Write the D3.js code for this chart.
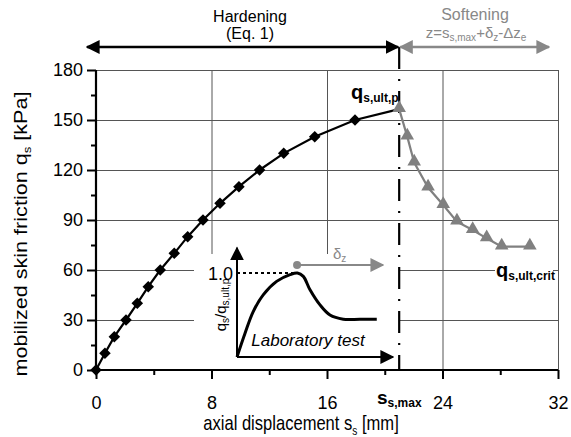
<!DOCTYPE html>
<html>
<head>
<meta charset="utf-8">
<script src="https://cdn.jsdelivr.net/npm/d3@7"></script>
<style>
body { margin: 0; background: #fff; }
svg { font-family: "Liberation Sans", Arial, sans-serif; }
</style>
</head>
<body>
<script>
// hardening branch (diamonds) and softening branch (triangles)
const hardX = [0, 0.62, 1.27, 2.08, 2.86, 3.62, 4.45, 5.42, 6.35, 7.41, 8.59, 9.9, 11.33, 13.0, 15.15, 17.94, 21.0]
const hardY = [0, 10, 20, 30, 40, 50, 60, 70, 80, 90, 100, 110, 120, 130, 140, 150, 156.5]
const softX = [21.0, 21.56, 22.04, 23.0, 24.05, 25.0, 26.09, 27.06, 28.1, 30.05]
const softY = [156.5, 140, 124.5, 109.5, 99, 89, 84, 79, 74, 74]
const xTicks = [0, 8, 16, 24, 32]
const xMinor = [4, 12, 20, 28]
const yTicks = [0, 30, 60, 90, 120, 150, 180]
const yMinor = [15, 45, 75, 105, 135, 165]
const sMax = 21.0
// inset (laboratory test), normalised units
const labX = [0, 0.51, 1.04, 1.68, 2.54, 3.40, 3.87, 4.25, 4.68, 5.32, 5.96, 6.81, 7.88, 8.96]
const labY = [0, 0.28, 0.54, 0.74, 0.90, 0.98, 1.0, 0.96, 0.80, 0.62, 0.50, 0.45, 0.45, 0.45]

const W = 571, H = 437
const svg = d3.select("body").append("svg").attr("width", W).attr("height", H)

const x = d3.scaleLinear().domain([0, 32]).range([96, 558])
const y = d3.scaleLinear().domain([0, 180]).range([370, 70])

// gridlines
svg.append("g")
    .attr("transform", "translate(0,70)")
    .call(d3.axisTop(x).tickValues(xTicks.slice(1)).tickSize(-300).tickFormat(""))
    .call(g => g.select(".domain").remove())
    .call(g => g.selectAll("line").attr("stroke", "#555").attr("stroke-width", 1))
svg.append("g")
    .attr("transform", "translate(558,0)")
    .call(d3.axisRight(y).tickValues(yTicks.slice(1)).tickSize(-462).tickFormat(""))
    .call(g => g.select(".domain").remove())
    .call(g => g.selectAll("line").attr("stroke", "#555").attr("stroke-width", 1))

// inset background
svg.append("rect").attr("x", 194).attr("y", 254).attr("width", x(sMax) - 194).attr("height", 115).attr("fill", "#fff")

// axes
let yAx = svg.append("g").attr("transform", "translate(96,0)")
    .call(d3.axisLeft(y).tickValues(yTicks).tickSize(9).tickPadding(4))
yAx.selectAll("text").attr("font-size", 18).attr("fill", "#000").attr("font-family", "Liberation Sans, Arial")
yAx.selectAll("line").attr("stroke-width", 2)
yAx.select(".domain").attr("stroke-width", 2.2).attr("d", "M0,70V370")
svg.append("g").attr("transform", "translate(96,0)")
    .call(d3.axisLeft(y).tickValues(yMinor).tickSize(5).tickFormat(""))
    .call(g => g.select(".domain").remove())
    .call(g => g.selectAll("line").attr("stroke-width", 2))

let xAx = svg.append("g").attr("transform", "translate(0,370)")
    .call(d3.axisBottom(x).tickValues(xTicks).tickSize(9).tickPadding(17))
xAx.selectAll("text").attr("font-size", 18).attr("fill", "#000").attr("font-family", "Liberation Sans, Arial")
xAx.selectAll("line").attr("stroke-width", 2)
xAx.select(".domain").attr("stroke-width", 2.2).attr("d", "M96,0H558")
svg.append("g").attr("transform", "translate(0,370)")
    .call(d3.axisBottom(x).tickValues(xMinor).tickSize(5).tickFormat(""))
    .call(g => g.select(".domain").remove())
    .call(g => g.selectAll("line").attr("stroke-width", 2))

// axis titles
svg.append("text").attr("transform", "translate(301,430) scale(0.92,1.15)").attr("text-anchor", "middle").attr("font-size", 18)
    .html('axial displacement s<tspan font-size="11" dy="4">s</tspan><tspan dy="-4"> [mm]</tspan>')
svg.append("text").attr("transform", "translate(27,234) rotate(-90) scale(1.2,1)").attr("text-anchor", "middle").attr("font-size", 18)
    .html('mobilized skin friction q<tspan font-size="11" dy="4">s</tspan><tspan dy="-4"> [kPa]</tspan>')

// s_s,max label
svg.append("text").attr("x", 377).attr("y", 404).attr("font-weight", "bold").attr("font-size", 19)
    .html('s<tspan font-size="12" dy="3">s,max</tspan>')

// dash-dot vertical line at s_s,max
svg.append("line").attr("x1", x(sMax)).attr("x2", x(sMax)).attr("y1", 47).attr("y2", 370)
    .attr("stroke", "#000").attr("stroke-width", 2.2).attr("stroke-dasharray", "22,10,2,10")

// top arrows
const defs = svg.append("defs")
function head(id, col) {
    defs.append("marker").attr("id", id).attr("viewBox", "0 0 10 10").attr("refX", 9).attr("refY", 5)
        .attr("markerWidth", 14).attr("markerHeight", 14).attr("markerUnits", "userSpaceOnUse").attr("orient", "auto-start-reverse")
        .append("path").attr("d", "M0,0L10,5L0,10z").attr("fill", col)
}
head("hb", "#000"); head("hg", "#888")
svg.append("line").attr("x1", 87).attr("x2", x(sMax) - 1).attr("y1", 47).attr("y2", 47)
    .attr("stroke", "#000").attr("stroke-width", 2.5).attr("marker-start", "url(#hb)").attr("marker-end", "url(#hb)")
svg.append("line").attr("x1", x(sMax) + 1).attr("x2", 549).attr("y1", 47).attr("y2", 47)
    .attr("stroke", "#888").attr("stroke-width", 2.5).attr("marker-start", "url(#hg)").attr("marker-end", "url(#hg)")
svg.append("text").attr("x", 250).attr("y", 22).attr("text-anchor", "middle").attr("font-size", 16).text("Hardening")
svg.append("text").attr("x", 250).attr("y", 39).attr("text-anchor", "middle").attr("font-size", 16).text("(Eq. 1)")
svg.append("text").attr("x", 475).attr("y", 20).attr("text-anchor", "middle").attr("font-size", 16).attr("fill", "#888").text("Softening")
svg.append("text").attr("x", 476).attr("y", 38).attr("text-anchor", "middle").attr("font-size", 15).attr("fill", "#888")
    .html('z=s<tspan font-size="10" dy="3">s,max</tspan><tspan dy="-3">+δ</tspan><tspan font-size="10" dy="3">z</tspan><tspan dy="-3">-Δz</tspan><tspan font-size="10" dy="3">e</tspan>')

// data lines
const hard = hardX.map((v, i) => [v, hardY[i]])
const soft = softX.map((v, i) => [v, softY[i]])
const line = d3.line().x(d => x(d[0])).y(d => y(d[1]))
svg.append("path").attr("d", line(soft)).attr("fill", "none").attr("stroke", "#808080").attr("stroke-width", 2.2)
svg.append("path").attr("d", line(hard)).attr("fill", "none").attr("stroke", "#000").attr("stroke-width", 2.2)
svg.selectAll(".dia").data(hard.slice(0, -1)).enter().append("path")
    .attr("transform", d => `translate(${x(d[0])},${y(d[1])})`)
    .attr("d", d3.symbol(d3.symbolDiamond2, 85)).attr("fill", "#000")
svg.selectAll(".tri").data(soft).enter().append("path")
    .attr("transform", d => `translate(${x(d[0])},${y(d[1]) - 1})`)
    .attr("d", d3.symbol(d3.symbolTriangle, 80)).attr("fill", "#808080")

// annotations
svg.append("text").attr("x", 351).attr("y", 99).attr("font-weight", "bold").attr("font-size", 20)
    .html('q<tspan font-size="12" dy="3">s,ult,p</tspan>')
svg.append("rect").attr("x", 495).attr("y", 262).attr("width", 58).attr("height", 20).attr("fill", "#fff")
svg.append("text").attr("x", 496).attr("y", 277).attr("font-weight", "bold").attr("font-size", 20)
    .html('q<tspan font-size="12" dy="3">s,ult,crit</tspan>')

// inset
const ix = d3.scaleLinear().domain([0, 10]).range([237, 393])
const iy = d3.scaleLinear().domain([0, 1]).range([357, 273])
svg.append("line").attr("x1", ix(0)).attr("x2", ix(0)).attr("y1", iy(0)).attr("y2", iy(1.3))
    .attr("stroke", "#000").attr("stroke-width", 2).attr("marker-end", "url(#hb)")
svg.append("line").attr("x1", ix(0)).attr("x2", ix(10)).attr("y1", iy(0)).attr("y2", iy(0))
    .attr("stroke", "#000").attr("stroke-width", 2).attr("marker-end", "url(#hb)")
svg.append("line").attr("x1", ix(0)).attr("x2", ix(3.87)).attr("y1", iy(1)).attr("y2", iy(1))
    .attr("stroke", "#000").attr("stroke-width", 2).attr("stroke-dasharray", "3,3")
const lab = labX.map((v, i) => [v, labY[i]])
svg.append("path").attr("d", d3.line().x(d => ix(d[0])).y(d => iy(d[1])).curve(d3.curveCatmullRom)(lab))
    .attr("fill", "none").attr("stroke", "#000").attr("stroke-width", 3)
svg.append("circle").attr("cx", ix(3.85)).attr("cy", iy(1.095)).attr("r", 4).attr("fill", "#888")
svg.append("line").attr("x1", ix(3.85)).attr("x2", ix(9.36)).attr("y1", iy(1.095)).attr("y2", iy(1.095))
    .attr("stroke", "#888").attr("stroke-width", 2).attr("marker-end", "url(#hg)")
svg.append("text").attr("x", 333).attr("y", 259).attr("font-size", 15).attr("fill", "#888")
    .html('δ<tspan font-size="10" dy="3">z</tspan>')
svg.append("text").attr("x", 233).attr("y", 280).attr("text-anchor", "end").attr("font-size", 18).text("1.0")
svg.append("text").attr("transform", "translate(226,305) rotate(-90)").attr("text-anchor", "middle").attr("font-size", 15)
    .html('q<tspan font-size="10" dy="3">s</tspan><tspan dy="-3">/q</tspan><tspan font-size="10" dy="3">s,ult,p</tspan>')
svg.append("text").attr("x", 308).attr("y", 346).attr("text-anchor", "middle").attr("font-size", 17).attr("font-style", "italic")
    .text("Laboratory test")
</script>
</body>
</html>
